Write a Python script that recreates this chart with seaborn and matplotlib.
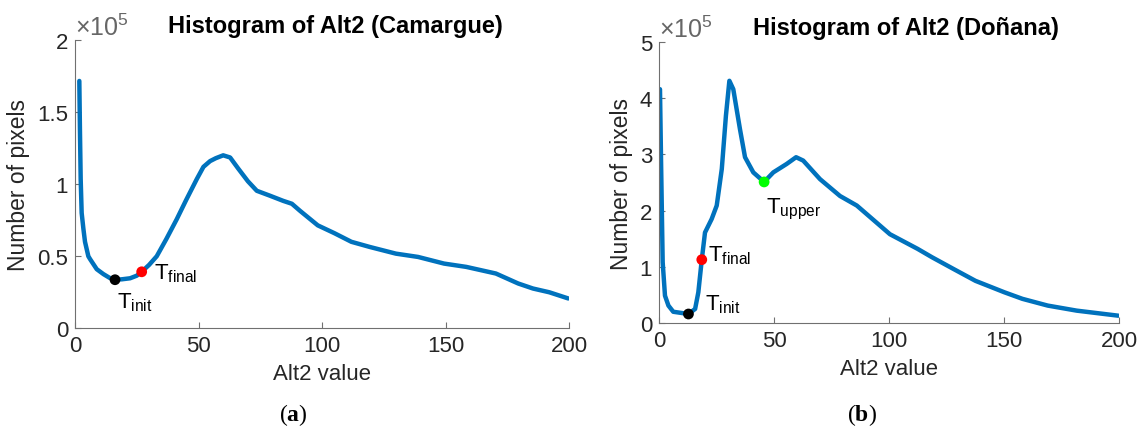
import matplotlib
matplotlib.use("Agg")
import matplotlib.pyplot as plt
import seaborn as sns
import pandas as pd

# Alt2 histograms (pixel counts in units of 1e5)
camargue_x = [1.75, 2.0, 2.3, 2.7, 3.4, 4.05, 5.4, 6.1, 8.8, 11.5, 14, 16.2, 19, 22.3, 25, 27,
              30, 33.1, 37, 41.2, 45, 49.3, 52, 54.7, 57, 60, 62.8, 66, 70, 73.6, 78.9, 84.3,
              87.8, 91.1, 98.3, 105, 111.9, 119.4, 129.9, 138.9, 149.4, 158.4, 170.4, 179.4,
              185.4, 192, 199.7]
camargue_y = [1.716, 1.38, 1.035, 0.80, 0.69, 0.60, 0.50, 0.48, 0.41, 0.376, 0.35, 0.337, 0.34,
              0.347, 0.365, 0.392, 0.44, 0.50, 0.62, 0.757, 0.89, 1.035, 1.12, 1.16, 1.18, 1.20,
              1.185, 1.11, 1.02, 0.954, 0.92, 0.884, 0.864, 0.815, 0.714, 0.66, 0.60, 0.564,
              0.518, 0.495, 0.449, 0.426, 0.38, 0.311, 0.276, 0.25, 0.207]

donana_x = [0.43, 0.9, 1.6, 2.6, 4.1, 6.2, 9.9, 12.8, 15.7, 17.1, 18.6, 20, 22.9, 25.1, 27.3,
            29.1, 30.6, 32.3, 35.2, 37.4, 41, 45.7, 49.7, 55.5, 59.6, 62.7, 70, 78.7, 86, 100.4,
            112.4, 118.7, 128.1, 137.6, 150.2, 158, 169, 181.6, 199.7]
donana_y = [4.16, 2.86, 1.08, 0.486, 0.31, 0.20, 0.178, 0.16, 0.25, 0.546, 1.127, 1.61, 1.85,
            2.09, 2.74, 3.69, 4.31, 4.16, 3.45, 2.95, 2.68, 2.51, 2.68, 2.83, 2.95, 2.89, 2.56,
            2.26, 2.09, 1.58, 1.32, 1.17, 0.96, 0.75, 0.546, 0.43, 0.31, 0.22, 0.13]

# Threshold points
camargue_thr_names = ["init", "final"]
camargue_thr_x = [16.2, 27.0]
camargue_thr_y = [0.337, 0.392]
donana_thr_names = ["init", "final", "upper"]
donana_thr_x = [12.8, 18.6, 45.7]
donana_thr_y = [0.16, 1.127, 2.51]

sns.set_style("ticks")
plt.rcParams["font.family"] = ["Liberation Sans", "DejaVu Sans"]
plt.rcParams["mathtext.fontset"] = "custom"
plt.rcParams["mathtext.rm"] = "Liberation Serif"
plt.rcParams["mathtext.bf"] = "Liberation Serif:bold"

TXT = "#262626"
AX = "#707070"
LINE = "#0072BD"
FS = 16
thr_colors = {"init": "black", "final": "#FF0000", "upper": "#00FF00"}

fig = plt.figure(figsize=(11.38, 4.27), dpi=100)
ax1 = fig.add_axes([75 / 1138, 1 - 329.3 / 427, 494 / 1138, 288.3 / 427])
ax2 = fig.add_axes([659 / 1138, 1 - 324 / 427, 460 / 1138, 281 / 427])


def draw(ax, xs, ys, tn, tx, ty, offsets, ymax, title, title_x):
    df = pd.DataFrame({"x": xs, "y": ys})
    sns.lineplot(data=df, x="x", y="y", ax=ax, color=LINE, lw=3.2, estimator=None, sort=False)
    tdf = pd.DataFrame({"name": tn, "x": tx, "y": ty})
    sns.scatterplot(data=tdf, x="x", y="y", hue="name", palette=thr_colors, ax=ax,
                    s=60, edgecolor="none", legend=False, zorder=5)
    for n, x, y in zip(tn, tx, ty):
        ax.annotate(r"$\mathregular{T_{%s}}$" % n, (x, y), xytext=offsets[n],
                    textcoords="offset pixels", ha="left", va="top", fontsize=FS, color="black")
    ax.set_xlim(0, 200)
    ax.set_ylim(0, ymax)
    ax.set_xticks([0, 50, 100, 150, 200])
    ax.set_xlabel("Alt2 value", fontsize=FS, color=TXT, labelpad=5)
    ax.set_ylabel("Number of pixels", fontsize=16.5, color=TXT, labelpad=5)
    ax.set_title(title, fontsize=17, fontweight="bold", color="black", pad=6, x=title_x)
    ax.tick_params(direction="in", length=4, width=0.8, color=AX, labelsize=FS,
                   labelcolor=TXT, pad=5)
    for s in ["top", "right"]:
        ax.spines[s].set_visible(False)
    for s in ["left", "bottom"]:
        ax.spines[s].set_color(AX)
        ax.spines[s].set_linewidth(0.8)
    ax.text(0.0, 1.0, r"$\mathregular{\times10^5}$", transform=ax.transAxes,
            ha="left", va="bottom", fontsize=18, color="#666666")


draw(ax1, camargue_x, camargue_y, camargue_thr_names, camargue_thr_x, camargue_thr_y,
     {"init": (2, -11), "final": (12, 10)}, 2, "Histogram of Alt2 (Camargue)", 0.528)
ax1.set_yticks([0, 0.5, 1, 1.5, 2])
ax1.set_yticklabels(["0", "0.5", "1", "1.5", "2"])

draw(ax2, donana_x, donana_y, donana_thr_names, donana_thr_x, donana_thr_y,
     {"init": (17, 22), "final": (6, 16), "upper": (2, -14)}, 5, "Histogram of Alt2 (Doñana)",
     0.537)
ax2.set_yticks([0, 1, 2, 3, 4, 5])

fig.text(293 / 1138, 1 - 415 / 427, r"$\mathrm{(}\mathbf{a}\mathrm{)}$", ha="center",
         va="center", fontsize=17, color="black")
fig.text(862 / 1138, 1 - 415 / 427, r"$\mathrm{(}\mathbf{b}\mathrm{)}$", ha="center",
         va="center", fontsize=17, color="black")

fig.savefig("out.png", dpi=100)
